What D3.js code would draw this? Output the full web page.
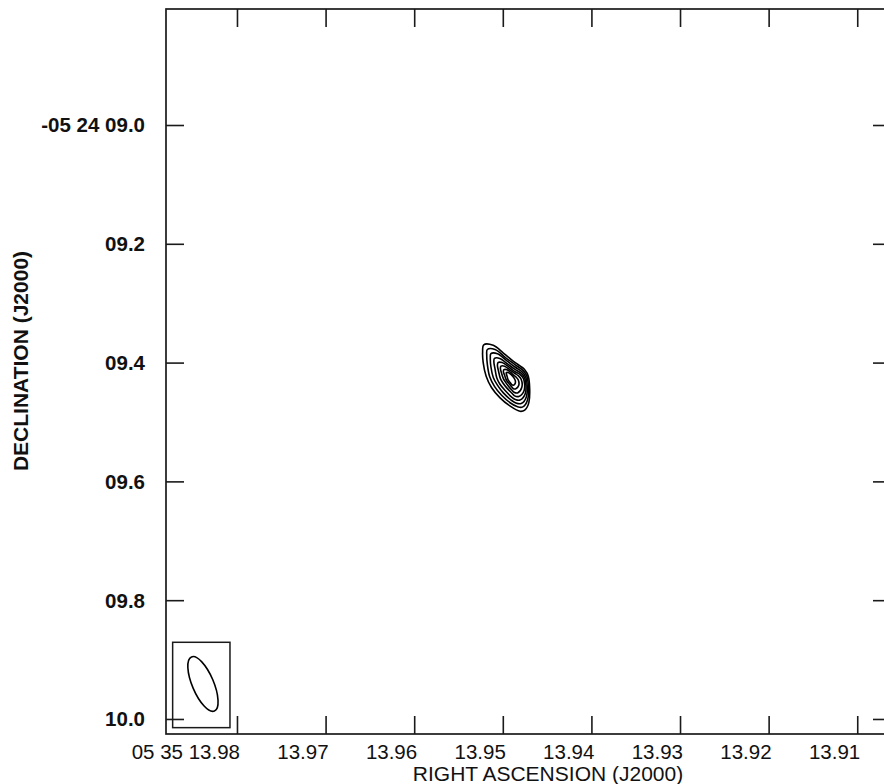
<!DOCTYPE html>
<html>
<head>
<meta charset="utf-8">
<script src="https://cdn.jsdelivr.net/npm/d3@7"></script>
<style>
  body { margin: 0; background: #fff; }
  svg { display: block; }
  text { font-family: "Liberation Sans", Arial, Helvetica, sans-serif; fill: #111; }
</style>
</head>
<body>
<svg id="chart" width="884" height="784"></svg>
<script>
// Right ascension: seconds of time after 05h 35m
const raDomain = [13.98801, 13.90619];
const raTicks = [13.98, 13.97, 13.96, 13.95, 13.94, 13.93, 13.92, 13.91];
const raTickLabels = ["05 35 13.98", "13.97", "13.96", "13.95", "13.94", "13.93", "13.92", "13.91"];

// Declination: arcseconds after -05d 24m
const decDomain = [8.8047, 10.0253];
const decTicks = [9.0, 9.2, 9.4, 9.6, 9.8, 10.0];
const decTickLabels = ["-05 24 09.0", "09.2", "09.4", "09.6", "09.8", "10.0"];

// Source reference position [RA s, Dec arcsec]
const sourceCenter = [13.9492, 9.4250];

// Contour levels (multiples of the map rms), outermost first
const contourLevels = [3, 4, 5, 6, 7, 8, 9, 10];

// Contour vertices: offsets from the reference position in mas [east, north]
const contourRings = [
  [[44,55],[28,54],[11,41],[-6,27],[-25,13],[-31,2],[-32,-42],[-25,-55],[-17,-57],[0,-48],[17,-34],[31,-17],[40,2],[45,25],[46,42]],
  [[38,47],[25,47],[7,33],[-8,22],[-23,11],[-29,1],[-30,-37],[-21,-50],[-12,-49],[-1,-43],[14,-30],[26,-15],[34,1],[38,22],[39,37]],
  [[32,40],[21,40],[5,28],[-8,18],[-21,9],[-27,0],[-28,-32],[-19,-44],[-10,-43],[-2,-38],[11,-26],[21,-13],[28,0],[32,18],[33,32]],
  [[26,32],[17,32],[3,22],[-8,14],[-19,7],[-25,-1],[-26,-27],[-17,-38],[-9,-37],[-3,-33],[8,-22],[17,-11],[22,-1],[25,14],[27,26]],
  [[20,25],[13,25],[1,17],[-8,10],[-17,5],[-23,-2],[-24,-22],[-15,-32],[-8,-31],[-4,-27],[5,-18],[12,-9],[16,-2],[19,10],[21,20]],
  [[15,19],[9,19],[-1,12],[-8,7],[-14,3],[-19,-3],[-20,-17],[-13,-26],[-7,-25],[-4,-22],[3,-14],[8,-7],[11,-2],[14,7],[16,15]],
  [[10,13],[5,13],[-2,8],[-6,4],[-10,1],[-14,-4],[-15,-13],[-10,-19],[-6,-19],[-4,-17],[1,-11],[5,-6],[7,-2],[9,4],[11,10]],
  [[6,8],[2,8],[-3,4],[-7,-1],[-9,-5],[-9,-10],[-6,-13],[-3,-12],[0,-8],[3,-4],[4,-1],[5,3],[6,6]]
];

// Restoring beam: centre [RA s, Dec arcsec], axes [major, minor] mas, position angle deg
const beamCenter = [13.98384, 9.9411];
const beamAxes = [99, 36];
const beamPA = 23;
// Beam box corners [RA s, Dec arcsec]
const beamBox = [[13.98726, 9.8709], [13.98079, 10.0146]];

const svg = d3.select("#chart");
const plot = { left: 166, top: 9, right: 891, bottom: 734 };

const x = d3.scaleLinear().domain(raDomain).range([plot.left, plot.right]);
const y = d3.scaleLinear().domain(decDomain).range([plot.top, plot.bottom]);

const cosDec = Math.cos((5 + 24 / 60 + 9.4 / 3600) * Math.PI / 180);
const toSky = ([e, n]) => [sourceCenter[0] + e / (15000 * cosDec), sourceCenter[1] - n / 1000];

const tickLen = 18;
const axisColor = "#1a1a1a";

// Frame
svg.append("rect")
  .attr("x", plot.left).attr("y", plot.top)
  .attr("width", plot.right - plot.left).attr("height", plot.bottom - plot.top)
  .attr("fill", "none").attr("stroke", axisColor).attr("stroke-width", 1.7);

// Inward ticks on all four sides
const bottomAxis = d3.axisBottom(x).tickValues(raTicks).tickSizeInner(-tickLen).tickSizeOuter(0).tickFormat("");
const topAxis = d3.axisTop(x).tickValues(raTicks).tickSizeInner(-tickLen).tickSizeOuter(0).tickFormat("");
const leftAxis = d3.axisLeft(y).tickValues(decTicks).tickSizeInner(-tickLen).tickSizeOuter(0).tickFormat("");
const rightAxis = d3.axisRight(y).tickValues(decTicks).tickSizeInner(-tickLen).tickSizeOuter(0).tickFormat("");

[[bottomAxis, `translate(0,${plot.bottom})`], [topAxis, `translate(0,${plot.top})`],
 [leftAxis, `translate(${plot.left},0)`], [rightAxis, `translate(${plot.right},0)`]].forEach(([ax, tr]) => {
  const g = svg.append("g").attr("transform", tr).call(ax);
  g.select(".domain").remove();
  g.selectAll(".tick line").attr("stroke", axisColor).attr("stroke-width", 1.6);
});

// RA tick labels
svg.append("g").selectAll("text").data(raTicks).join("text")
  .attr("x", d => x(d) + 3)
  .attr("y", 759)
  .attr("text-anchor", "end")
  .style("font-size", "20.5px")
  .text((d, i) => raTickLabels[i]);

// Dec tick labels
svg.append("g").selectAll("text").data(decTicks).join("text")
  .attr("x", 145)
  .attr("y", d => y(d))
  .attr("dy", "0.36em")
  .attr("text-anchor", "end")
  .style("font-size", "20.5px")
  .style("font-weight", "bold")
  .text((d, i) => decTickLabels[i]);

// Axis titles
svg.append("text")
  .attr("x", 548).attr("y", 781)
  .attr("text-anchor", "middle")
  .style("font-size", "21px")
  .text("RIGHT ASCENSION (J2000)");

svg.append("text")
  .attr("transform", "translate(28,361) rotate(-90)")
  .attr("text-anchor", "middle")
  .style("font-size", "21px")
  .style("font-weight", "bold")
  .text("DECLINATION (J2000)");

// Contours
const ringLine = d3.line()
  .x(p => x(toSky(p)[0]))
  .y(p => y(toSky(p)[1]))
  .curve(d3.curveCatmullRomClosed.alpha(0.5));

svg.append("g").selectAll("path").data(contourRings).join("path")
  .attr("d", ringLine)
  .attr("fill", "none")
  .attr("stroke", "#000")
  .attr("stroke-width", 1.6)
  .attr("data-level", (d, i) => contourLevels[i]);

// Beam box and ellipse
svg.append("rect")
  .attr("x", x(beamBox[0][0])).attr("y", y(beamBox[0][1]))
  .attr("width", x(beamBox[1][0]) - x(beamBox[0][0]))
  .attr("height", y(beamBox[1][1]) - y(beamBox[0][1]))
  .attr("fill", "none").attr("stroke", axisColor).attr("stroke-width", 1.5);

const bx = x(beamCenter[0]), by = y(beamCenter[1]);
const ry = y(beamCenter[1] + beamAxes[0] / 2000) - by;
const rx = y(beamCenter[1] + beamAxes[1] / 2000) - by;
svg.append("ellipse")
  .attr("cx", bx).attr("cy", by)
  .attr("rx", rx).attr("ry", ry)
  .attr("transform", `rotate(${-beamPA},${bx},${by})`)
  .attr("fill", "none").attr("stroke", "#000").attr("stroke-width", 1.6);
</script>
</body>
</html>
